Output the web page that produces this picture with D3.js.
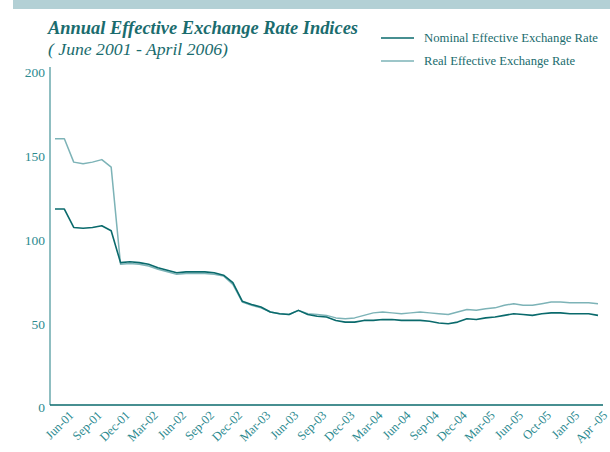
<!DOCTYPE html>
<html>
<head>
<meta charset="utf-8">
<script src="https://cdn.jsdelivr.net/npm/d3@7/dist/d3.min.js"></script>
<style>
  body { margin: 0; background: #fff; }
  svg { display: block; }
  svg text { font-family: "Liberation Serif", "DejaVu Serif", serif; }
</style>
</head>
<body>
<svg id="chart" width="610" height="452"></svg>
<script>
// Monthly index values, June 2001 onwards (59 months)
const nominalSeries = [
  117, 117, 106, 105.5, 106, 107, 104,
  85, 85.5, 85, 84, 82, 80.5, 79, 79.5, 79.5, 79.5, 79, 77.5, 73,
  62, 60, 58.5, 55.5, 54.5, 54, 56.5, 54, 53, 52.5, 50.5, 49.5, 49.5,
  50.5, 50.5, 51, 51, 50.5, 50.5, 50.5, 50, 49, 48.5, 49.5, 51.5, 51,
  52, 52.5, 53.5, 54.5, 54, 53.5, 54.5, 55, 55, 54.5, 54.5, 54.5, 53.5
];
const realSeries = [
  159, 159, 145, 144, 145, 146.5, 142,
  84, 84.5, 84, 83, 81, 79.5, 78, 78.5, 78.5, 78.5, 78, 77, 72,
  61.5, 59.5, 58, 55.5, 54.5, 54, 56.5, 54.5, 54, 53.5, 52, 51.5, 52,
  53.5, 55, 55.5, 55, 54.5, 55, 55.5, 55, 54.5, 54, 55.5, 57, 56.5,
  57.5, 58, 59.5, 60.5, 59.5, 59.5, 60.5, 61.5, 61.5, 61, 61, 61, 60.5
];
// Category labels, one on every third month
const monthLabels = [
  "Jun-01", "Sep-01", "Dec-01", "Mar-02", "Jun-02", "Sep-02", "Dec-02",
  "Mar-03", "Jun-03", "Sep-03", "Dec-03", "Mar-04", "Jun-04", "Sep-04",
  "Dec-04", "Mar-05", "Jun-05", "Oct-05", "Jan-05", "Apr -05"
];
const yTickValues = [0, 50, 100, 150, 200];
const seriesNames = ["Nominal Effective Exchange Rate", "Real Effective Exchange Rate"];

const FONT = '"Liberation Serif", "DejaVu Serif", serif';
const C_DARK = "#0a6a6c";
const C_LIGHT = "#7db3b7";
const C_TEXT = "#2c8a8f";
const C_TITLE = "#1a6c6e";

const svg = d3.select("#chart");

// Shrink or grow a text element's font so it spans the given width
function fitWidth(sel, width) {
  const node = sel.node();
  const fs = parseFloat(sel.style("font-size"));
  const w = node.getComputedTextLength();
  if (w > 0) sel.style("font-size", (fs * width / w).toFixed(2) + "px");
  return sel;
}

// Header band
svg.append("rect")
  .attr("x", 13).attr("y", 0).attr("width", 597).attr("height", 9)
  .attr("fill", "#b3d0d5");

// Title and subtitle
fitWidth(svg.append("text")
  .attr("x", 48).attr("y", 34)
  .style("font-family", FONT).style("font-size", "18px")
  .style("font-weight", "bold").style("font-style", "italic")
  .attr("fill", C_TITLE)
  .text("Annual Effective Exchange Rate Indices"), 310);

fitWidth(svg.append("text")
  .attr("x", 48).attr("y", 55)
  .style("font-family", FONT).style("font-size", "18px")
  .style("font-style", "italic")
  .attr("fill", C_TITLE)
  .text("( June 2001 - April 2006)"), 180);

// Legend
const legendRows = [
  { name: seriesNames[0], color: C_DARK, y: 38, w: 174 },
  { name: seriesNames[1], color: C_LIGHT, y: 61, w: 151 }
];
legendRows.forEach(r => {
  svg.append("line")
    .attr("x1", 381).attr("x2", 414).attr("y1", r.y).attr("y2", r.y)
    .attr("stroke", r.color).attr("stroke-width", 1.6);
  fitWidth(svg.append("text")
    .attr("x", 424).attr("y", r.y + 4)
    .style("font-family", FONT).style("font-size", "13px")
    .attr("fill", C_TITLE)
    .text(r.name), r.w);
});

// Scales
const x = d3.scaleLinear().domain([0, nominalSeries.length - 1]).range([55, 598]);
const y = d3.scaleLinear().domain([0, 200]).range([405, 70]);

// Y axis
const yAxis = d3.axisLeft(y).tickValues(yTickValues).tickSize(0).tickPadding(5);
const gy = svg.append("g").attr("transform", "translate(50,0)").call(yAxis);
gy.attr("font-family", null);
gy.select(".domain").remove();
gy.selectAll("text")
  .style("font-family", FONT).style("font-size", "13.5px")
  .attr("fill", C_TEXT).attr("dy", "0.5em");
svg.append("line")
  .attr("x1", 50).attr("x2", 50).attr("y1", 67).attr("y2", 405)
  .attr("stroke", "#6aa8ad").attr("stroke-width", 1.5);

// X axis
const labelIdx = monthLabels.map((_, i) => i * 3);
const xAxis = d3.axisBottom(x).tickValues(labelIdx)
  .tickFormat((d, i) => monthLabels[i]).tickSize(0);
const gx = svg.append("g").attr("transform", "translate(0,405)").call(xAxis);
gx.attr("font-family", null);
gx.select(".domain").remove();
gx.selectAll(".tick text")
  .style("font-family", FONT).style("font-size", "12.5px")
  .attr("fill", C_TEXT)
  .attr("text-anchor", "end")
  .attr("dy", null).attr("y", 0)
  .attr("transform", "translate(19,11) rotate(-45)");
svg.append("line")
  .attr("x1", 50).attr("x2", 603).attr("y1", 405).attr("y2", 405)
  .attr("stroke", C_DARK).attr("stroke-width", 1.5);

// Series lines
const line = d3.line().x((d, i) => x(i)).y(d => y(d));
svg.append("path").datum(realSeries)
  .attr("d", line).attr("fill", "none")
  .attr("stroke", C_LIGHT).attr("stroke-width", 1.5)
  .attr("stroke-linejoin", "round");
svg.append("path").datum(nominalSeries)
  .attr("d", line).attr("fill", "none")
  .attr("stroke", C_DARK).attr("stroke-width", 1.6)
  .attr("stroke-linejoin", "round");
</script>
</body>
</html>
